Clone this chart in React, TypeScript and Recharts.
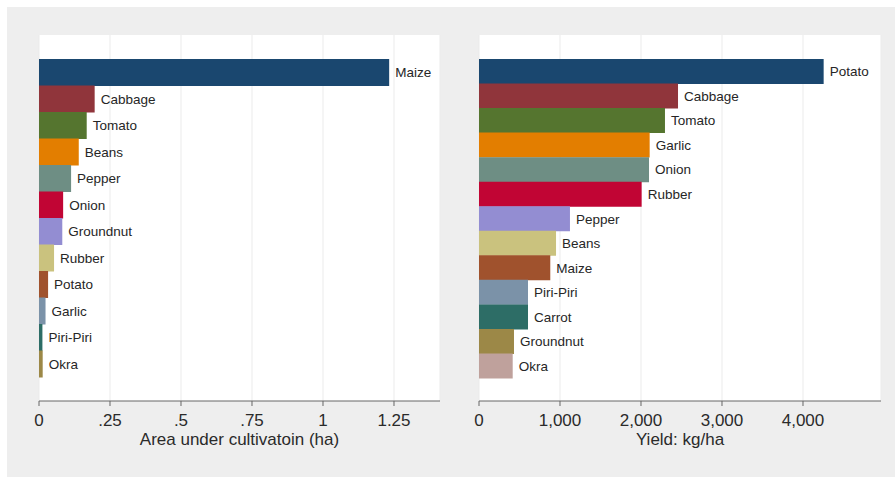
import { BarChart, Bar, XAxis, YAxis, CartesianGrid, Cell, LabelList, Label } from "recharts";

const FONT = "'Liberation Sans', Arial, Helvetica, sans-serif";

// Left panel: area under cultivation per crop (ha)
const areaCrops = ["Maize", "Cabbage", "Tomato", "Beans", "Pepper", "Onion", "Groundnut", "Rubber", "Potato", "Garlic", "Piri-Piri", "Okra"];
const areaHa = [1.233, 0.196, 0.168, 0.14, 0.113, 0.085, 0.082, 0.053, 0.032, 0.023, 0.012, 0.013];
const areaColors = ["#1a476f", "#90353b", "#55752f", "#e37e00", "#6e8e84", "#c10534", "#938dd2", "#cac27e", "#a0522d", "#7b92a8", "#2d6d66", "#9c8847"];
const areaTicks = [0, 0.25, 0.5, 0.75, 1, 1.25];

// Right panel: yield per crop (kg/ha)
const yieldCrops = ["Potato", "Cabbage", "Tomato", "Garlic", "Onion", "Rubber", "Pepper", "Beans", "Maize", "Piri-Piri", "Carrot", "Groundnut", "Okra"];
const yieldKg = [4255, 2457, 2296, 2107, 2099, 2008, 1123, 951, 880, 605, 605, 432, 416];
const yieldColors = ["#1a476f", "#90353b", "#55752f", "#e37e00", "#6e8e84", "#c10534", "#938dd2", "#cac27e", "#a0522d", "#7b92a8", "#2d6d66", "#9c8847", "#bfa19c"];
const yieldTicks = [0, 1000, 2000, 3000, 4000];

const areaData = areaCrops.map((name, i) => ({ name, value: areaHa[i] }));
const yieldData = yieldCrops.map((name, i) => ({ name, value: yieldKg[i] }));

type PanelProps = {
  data: { name: string; value: number }[];
  colors: string[];
  ticks: number[];
  max: number;
  title: string;
  width: number;
  right: number;
  pad: { top: number; bottom: number };
  fmt: (v: number) => string;
};

function Panel({ data, colors, ticks, max, title, width, right, pad, fmt }: PanelProps) {
  return (
    <BarChart
      width={width}
      height={470}
      data={data}
      layout="vertical"
      margin={{ top: 28, right, bottom: 26, left: 32 }}
      barCategoryGap={0}
      style={{ fontFamily: FONT }}
    >
      <CartesianGrid horizontal={false} stroke="#ebebeb" fill="#ffffff" />
      <XAxis
        type="number"
        domain={[0, max]}
        ticks={ticks}
        tickFormatter={fmt}
        height={50}
        stroke="#666"
        tickSize={5}
        tickMargin={8}
        tick={{ fontSize: 17, fill: "#2a2a2a", fontFamily: FONT }}
        interval={0}
      >
        <Label value={title} position="insideBottom" offset={6} style={{ fontSize: 17, fill: "#2a2a2a", fontFamily: FONT }} />
      </XAxis>
      <YAxis type="category" dataKey="name" width={0} tick={false} tickLine={false} stroke="#333" padding={pad} />
      <Bar dataKey="value" isAnimationActive={false}>
        {data.map((_, i) => (
          <Cell key={i} fill={colors[i]} />
        ))}
        <LabelList dataKey="name" position="right" offset={6} style={{ fontSize: 13.5, fill: "#262626", fontFamily: FONT }} />
      </Bar>
    </BarChart>
  );
}

const fmtArea = (v: number) => (v === 0 ? "0" : v < 1 ? String(v).replace(/^0/, "") : String(v));
const fmtYield = (v: number) => v.toLocaleString("en-US");

export default function App() {
  return (
    <div style={{ position: "absolute", left: 0, top: 0, width: 895, height: 477, background: "#fff" }}>
      <div style={{ position: "absolute", left: 7, top: 7, width: 888, height: 470, background: "#eeeeee" }}>
        <div style={{ position: "absolute", left: 0, top: 0 }}>
          <Panel
            data={areaData}
            colors={areaColors}
            ticks={areaTicks}
            max={1.412}
            title="Area under cultivatoin (ha)"
            width={440}
            right={7}
            pad={{ top: 24, bottom: 24 }}
            fmt={fmtArea}
          />
        </div>
        <div style={{ position: "absolute", left: 440, top: 0 }}>
          <Panel
            data={yieldData}
            colors={yieldColors}
            ticks={yieldTicks}
            max={4963}
            title="Yield: kg/ha"
            width={448}
            right={14}
            pad={{ top: 24, bottom: 23 }}
            fmt={fmtYield}
          />
        </div>
      </div>
    </div>
  );
}
